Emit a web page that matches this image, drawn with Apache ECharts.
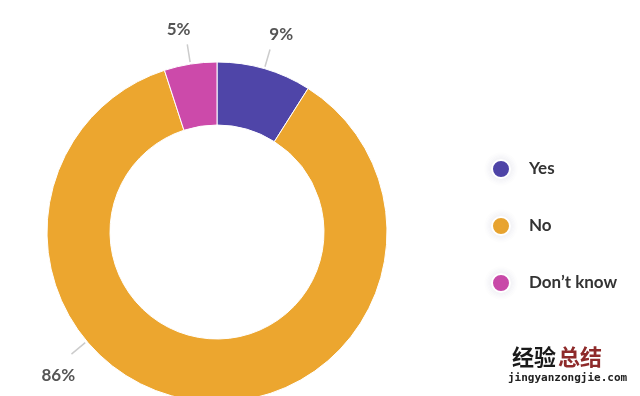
<!DOCTYPE html>
<html><head><meta charset="utf-8">
<script src="https://cdn.jsdelivr.net/npm/echarts@6/dist/echarts.min.js"></script>
<style>html,body{margin:0;padding:0;background:#fff}#c{width:640px;height:396px}</style>
</head><body><div id="c"></div>
<script>
const categories = ['Yes', 'No', 'Don\u2019t know'];
const values = [9, 86, 5];
const labels = ['9%', '86%', '5%'];
const colors = ['#4f45a8', '#eca62f', '#cc4aaa'];

const CX = 217, CY = 232, R_IN = 107, R_OUT = 170;
const noLabelAngle = 230; // degrees clockwise from top

function polar(aDeg, r) {
  const a = aDeg * Math.PI / 180;
  return [CX + r * Math.sin(a), CY - r * Math.cos(a)];
}
const total = values.reduce((s, v) => s + v, 0);
const midAngles = [];
let acc = 0;
values.forEach(v => { midAngles.push((acc + v / 2) / total * 360); acc += v; });
midAngles[1] = noLabelAngle;
const textAngleShift = [1.8, -2.2, -1.7];

const chart = echarts.init(document.getElementById('c'));
chart.setOption({
  animation: false,
  backgroundColor: '#fff',
  color: colors,
  legend: {
    orient: 'vertical',
    left: 486,
    top: 154,
    itemWidth: 18,
    itemHeight: 18,
    itemGap: 37,
    icon: 'circle',
    itemStyle: { shadowBlur: 9, shadowColor: 'rgba(60,60,110,0.14)' },
    textStyle: { fontFamily: 'Lato', fontWeight: 'bold', fontSize: 17, color: '#333', padding: [0, 0, 0, 14] },
    data: categories
  },
  series: [{
    type: 'pie',
    center: [CX, CY],
    radius: [R_IN, R_OUT],
    startAngle: 90,
    clockwise: true,
    avoidLabelOverlap: false,
    itemStyle: { borderColor: '#fff', borderWidth: 1 },
    label: {
      show: true,
      position: 'outside',
      formatter: p => labels[p.dataIndex],
      fontFamily: 'Lato',
      fontWeight: 'bold',
      fontSize: 17,
      color: '#555'
    },
    labelLine: { show: true, length: 18, length2: 0, lineStyle: { color: '#cccccc', width: 1.5 } },
    labelLayout: function (p) {
      const a = midAngles[p.dataIndex];
      const ta = a + textAngleShift[p.dataIndex];
      const rad = ta * Math.PI / 180;
      const p1 = polar(a, 172), p2 = polar(a, 190);
      const w = p.labelRect.width, h = p.labelRect.height;
      const rt = 190 + 6 + Math.abs(Math.sin(rad)) * w / 2 + Math.abs(Math.cos(rad)) * h / 2;
      const t = polar(ta, rt);
      return { x: t[0], y: t[1], align: 'center', verticalAlign: 'middle', labelLinePoints: [p1, p2, p2] };
    },
    emphasis: { disabled: true },
    data: categories.map((c, i) => ({ name: c, value: values[i] }))
  }],
  graphic: [
    { type: 'text', left: 512, top: 346, style: { text: '经验', font: 'bold 22px "Noto Sans CJK SC"', fill: '#1a1a1a' } },
    { type: 'text', left: 558, top: 346, style: { text: '总结', font: 'bold 22px "Noto Sans CJK SC"', fill: '#8e2a2a' } },
    { type: 'text', left: 508, top: 373, style: { text: 'jingyanzongjie.com', font: 'bold 11px "DejaVu Sans Mono"', fill: '#222' } }
  ]
});
</script>
</body></html>
